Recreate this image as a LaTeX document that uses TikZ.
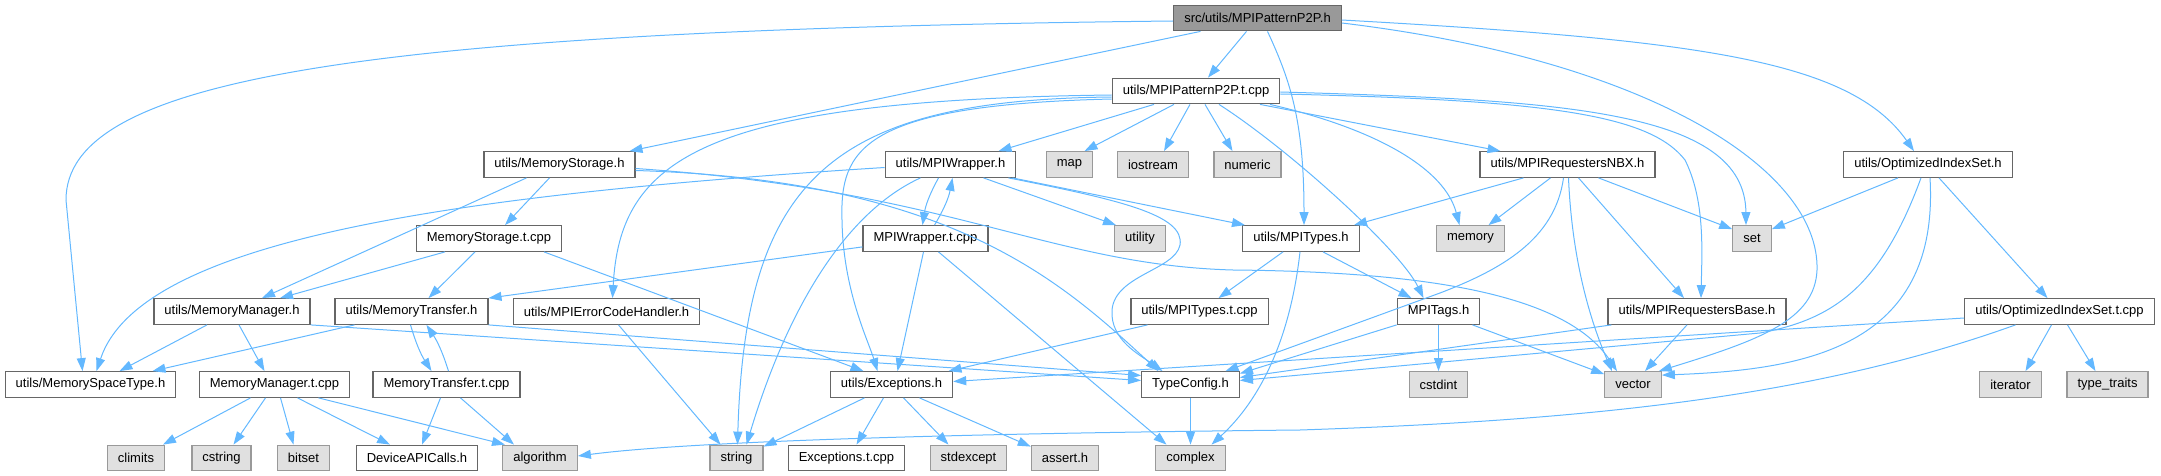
\documentclass[tikz,border=0pt]{standalone}
\usepackage{fontspec}
\setmainfont{Liberation Sans}
\usepackage{tikz}
\usetikzlibrary{arrows.meta}
\definecolor{edgeblue}{HTML}{63B8FF}
\definecolor{boxline}{HTML}{666666}
\definecolor{sysline}{HTML}{999999}
\definecolor{sysfill}{HTML}{E0E0E0}

\begin{document}
\begin{tikzpicture}[
    x=1pt, y=-1pt,
    file/.style={draw=boxline, fill=white, line width=1.3pt, inner xsep=10.5pt, inner ysep=0pt, minimum height=25.5pt, font=\fontsize{13}{15}\selectfont},
    sys/.style={file, draw=sysline, fill=sysfill},
    topfile/.style={file, fill=sysline},
    edge/.style={-{Triangle[length=13pt, width=9pt]}, draw=edgeblue, line width=1pt}
  ]
  \useasboundingbox (0,0) rectangle (2161,476);

  \node[topfile] (root) at (1257.5,18) {src/utils/MPIPatternP2P.h};
  \node[file] (pattT) at (1196,91) {utils/MPIPatternP2P.t.cpp};

  \node[file] (memStor) at (559.5,164.5) {utils/MemoryStorage.h};
  \node[file] (wrap) at (950.5,164.5) {utils/MPIWrapper.h};
  \node[sys] (map) at (1069.5,164.5) {map};
  \node[sys] (iostream) at (1153,164.5) {iostream};
  \node[sys] (numeric) at (1247.5,164.5) {numeric};
  \node[file] (nbx) at (1567.5,164.5) {utils/MPIRequestersNBX.h};
  \node[file] (optIdx) at (1928,164.5) {utils/OptimizedIndexSet.h};

  \node[file] (memStorT) at (489,238.5) {MemoryStorage.t.cpp};
  \node[file] (wrapT) at (925.5,238.5) {MPIWrapper.t.cpp};
  \node[sys] (utility) at (1140,238.5) {utility};
  \node[file] (types) at (1301,238.5) {utils/MPITypes.h};
  \node[sys] (memory) at (1470.5,238.5) {memory};
  \node[sys] (set) at (1752,238.5) {set};

  \node[file] (memMan) at (232,311.5) {utils/MemoryManager.h};
  \node[file] (memTr) at (411.5,311.5) {utils/MemoryTransfer.h};
  \node[file] (errH) at (606.5,311.5) {utils/MPIErrorCodeHandler.h};
  \node[file] (typesT) at (1199.5,311.5) {utils/MPITypes.t.cpp};
  \node[file] (tags) at (1438.5,311.5) {MPITags.h};
  \node[file] (reqBase) at (1697,311.5) {utils/MPIRequestersBase.h};
  \node[file] (optIdxT) at (2059.5,311.5) {utils/OptimizedIndexSet.t.cpp};

  \node[file] (spaceType) at (90.5,384.5) {utils/MemorySpaceType.h};
  \node[file] (memManT) at (274.5,384.5) {MemoryManager.t.cpp};
  \node[file] (memTrT) at (446.5,384.5) {MemoryTransfer.t.cpp};
  \node[file] (exc) at (891.5,384.5) {utils/Exceptions.h};
  \node[file] (typeCfg) at (1190.5,384.5) {TypeConfig.h};
  \node[sys] (cstdint) at (1438.5,384.5) {cstdint};
  \node[sys] (vector) at (1633,384.5) {vector};
  \node[sys] (iterator) at (2010.5,384.5) {iterator};
  \node[sys] (typeTraits) at (2107.5,384.5) {type\_traits};

  \node[sys] (climits) at (136,458) {climits};
  \node[sys] (cstring) at (221.5,458) {cstring};
  \node[sys] (bitset) at (303.5,458) {bitset};
  \node[file] (devApi) at (417,458) {DeviceAPICalls.h};
  \node[sys] (algorithm) at (540,458) {algorithm};
  \node[sys] (string) at (736.5,458) {string};
  \node[file] (excT) at (846.5,458) {Exceptions.t.cpp};
  \node[sys] (stdexcept) at (968.5,458) {stdexcept};
  \node[sys] (assert) at (1065,458) {assert.h};
  \node[sys] (complex) at (1190.5,458) {complex};

  \draw[edge] ([yshift=-3pt]root.west) .. controls (350,30) and (66,80) .. (66,200) -- ([xshift=-8pt]spaceType.north);
  \draw[edge] ([xshift=-57pt]root.south) -- ([xshift=70pt]memStor.north);
  \draw[edge] ([xshift=-11pt]root.south) -- ([xshift=12pt]pattT.north);
  \draw[edge] ([xshift=10pt]root.south) .. controls (1290,80) and (1304,120) .. ([xshift=3pt]types.north);
  \draw[edge] ([yshift=-5pt]root.east) .. controls (1650,60) and (1820,170) .. (1817,270) .. controls (1815,320) and (1760,340) .. ([xshift=-3pt]vector.north east);
  \draw[edge] ([yshift=-2pt]root.east) .. controls (1700,40) and (1850,60) .. ([xshift=-14pt]optIdx.north);

  \draw[edge] ([xshift=-42pt]pattT.south) -- ([xshift=48pt]wrap.north);
  \draw[edge] ([xshift=-22pt]pattT.south) -- ([xshift=15pt]map.north);
  \draw[edge] ([xshift=-6pt]pattT.south) -- ([xshift=11pt]iostream.north);
  \draw[edge] ([xshift=9pt]pattT.south) -- ([xshift=-15pt]numeric.north);
  \draw[edge] ([xshift=64pt]pattT.south) -- ([xshift=-67pt]nbx.north);
  \draw[edge] ([yshift=-1pt]pattT.east) .. controls (1560,100) and (1745,110) .. ([xshift=-6pt]set.north);
  \draw[edge] ([yshift=-3pt]pattT.east) .. controls (1550,100) and (1650,115) .. (1685,160) .. controls (1705,200) and (1702,250) .. ([xshift=4pt]reqBase.north);
  \draw[edge] ([xshift=74pt]pattT.south) .. controls (1380,130) and (1445,170) .. ([xshift=-11pt]memory.north);
  \draw[edge] ([xshift=23pt]pattT.south) .. controls (1290,150) and (1400,250) .. ([xshift=-15pt]tags.north);
  \draw[edge] ([yshift=-4pt]pattT.west) .. controls (700,100) and (620,160) .. ([xshift=6pt]errH.north);
  \draw[edge] ([yshift=-6pt]pattT.west) .. controls (830,100) and (745,180) .. ([xshift=1pt]string.north);
  \draw[edge] ([yshift=-8pt]pattT.west) .. controls (860,105) and (840,150) .. (842,220) .. controls (843,290) and (868,340) .. ([xshift=-14pt]exc.north);

  \draw[edge] ([yshift=-3pt]wrap.west) .. controls (450,195) and (140,240) .. ([xshift=6pt]spaceType.north);
  \draw[edge] ([xshift=-12pt]wrap.south) to[bend right=10] ([xshift=-3pt]wrapT.north);
  \draw[edge] ([xshift=9pt]wrapT.north) to[bend right=10] ([xshift=2pt]wrap.south);
  \draw[edge] ([xshift=-30pt]wrap.south) .. controls (850,210) and (790,300) .. ([xshift=10pt]string.north);
  \draw[edge] ([xshift=33pt]wrap.south) -- ([xshift=-24pt]utility.north);
  \draw[edge] ([xshift=62pt]wrap.south) -- ([xshift=-56pt]types.north);
  \draw[edge] ([xshift=58pt]wrap.south) .. controls (1120,200) and (1185,215) .. (1180,245) .. controls (1175,270) and (1115,275) .. (1112,310) .. controls (1110,340) and (1140,355) .. ([xshift=-28pt]typeCfg.north);

  \draw[edge] ([yshift=-6pt]memStor.east) .. controls (950,180) and (1060,280) .. ([xshift=-32pt]typeCfg.north);
  \draw[edge] ([yshift=-4pt]memStor.east) .. controls (950,190) and (1050,265) .. (1233,270) .. controls (1450,272) and (1570,300) .. ([xshift=-16pt]vector.north);
  \draw[edge] ([xshift=-33pt]memStor.south) -- ([xshift=30pt]memMan.north);
  \draw[edge] ([xshift=-10pt]memStor.south) -- ([xshift=16pt]memStorT.north);
  \draw[edge] ([xshift=-44pt]memStorT.south) -- ([xshift=48pt]memMan.north);
  \draw[edge] ([xshift=-14pt]memStorT.south) -- ([xshift=17pt]memTr.north);
  \draw[edge] ([xshift=55pt]memStorT.south) -- ([xshift=-28pt]exc.north);

  \draw[edge] ([yshift=5pt]wrapT.south west) -- (memTr.north east);
  \draw[edge] ([xshift=-2pt]wrapT.south) -- ([xshift=6pt]exc.north);
  \draw[edge] ([xshift=13pt]wrapT.south) -- ([xshift=-24pt]complex.north);

  \draw[edge] ([xshift=-18pt]types.south) -- ([xshift=19pt]typesT.north);
  \draw[edge] ([xshift=22pt]types.south) -- ([xshift=-27pt]tags.north);
  \draw[edge] ([xshift=-1pt]types.south) .. controls (1290,340) and (1260,400) .. ([xshift=21pt]complex.north);
  \draw[edge] ([xshift=-52pt]typesT.south) -- ([xshift=57pt]exc.north);

  \draw[edge] (tags.south west) -- ([yshift=11pt]typeCfg.east);
  \draw[edge] (tags.south) -- (cstdint.north);
  \draw[edge] ([xshift=34pt]tags.south) -- ([yshift=-3pt]vector.north west);

  \draw[edge] ([xshift=-44pt]nbx.south) -- ([xshift=53pt]types.north);
  \draw[edge] ([xshift=-17pt]nbx.south) -- ([xshift=18pt]memory.north);
  \draw[edge] ([xshift=-4pt]nbx.south) .. controls (1555,240) and (1500,270) .. (1440,293) -- ([xshift=35pt]typeCfg.north);
  \draw[edge] ([xshift=1pt]nbx.south) .. controls (1572,260) and (1590,320) .. ([xshift=-21pt]vector.north);
  \draw[edge] ([xshift=11pt]nbx.south) -- ([xshift=-13pt]reqBase.north);
  \draw[edge] ([xshift=31pt]nbx.south) -- ([yshift=-4pt]set.north west);

  \draw[edge] ([xshift=4pt]reqBase.south west) -- ([yshift=7pt]typeCfg.east);
  \draw[edge] ([xshift=-10pt]reqBase.south) -- ([xshift=12pt]vector.north);

  \draw[edge] ([xshift=-30pt]optIdx.south) -- ([yshift=-4pt]set.north east);
  \draw[edge] ([xshift=11pt]optIdx.south) -- ([xshift=-12pt]optIdxT.north);
  \draw[edge] ([xshift=2pt]optIdx.south) .. controls (1940,350) and (1800,370) .. ([yshift=-4pt]vector.north east);
  \draw[edge] ([xshift=-7pt]optIdx.south) .. controls (1880,290) and (1830,320) .. (1760,333) -- ([yshift=4pt]typeCfg.east);

  \draw[edge] ([yshift=-6.5pt]optIdxT.west) -- ([yshift=3pt]exc.east);
  \draw[edge] ([xshift=-8pt]optIdxT.south) -- ([xshift=15pt]iterator.north);
  \draw[edge] ([xshift=8pt]optIdxT.south) -- ([xshift=-12pt]typeTraits.north);
  \draw[edge] ([xshift=-44pt]optIdxT.south) .. controls (1820,395) and (1600,420) .. (1300,430) .. controls (1000,433) and (700,440) .. ([yshift=2pt]algorithm.east);

  \draw[edge] ([xshift=12pt]errH.south) -- ([xshift=-16pt]string.north);

  \draw[edge] ([xshift=-25pt]memMan.south) -- ([xshift=29pt]spaceType.north);
  \draw[edge] ([xshift=7pt]memMan.south) -- ([xshift=-10pt]memManT.north);
  \draw[edge] (memMan.south east) -- ([yshift=4pt]typeCfg.west);
  \draw[edge] (memTr.south east) -- ([yshift=9pt]typeCfg.west);
  \draw[edge] ([xshift=-57pt]memTr.south) -- ([xshift=62pt]spaceType.north);
  \draw[edge] ([xshift=-1pt]memTr.south) to[bend right=8] ([xshift=-15pt]memTrT.north);
  \draw[edge] ([xshift=2pt]memTrT.north) to[bend right=8] ([xshift=15pt]memTr.south);

  \draw[edge] ([xshift=-24pt]memManT.south) -- ([xshift=27pt]climits.north);
  \draw[edge] ([xshift=-9pt]memManT.south) -- ([xshift=12pt]cstring.north);
  \draw[edge] ([xshift=6pt]memManT.south) -- ([xshift=-10pt]bitset.north);
  \draw[edge] ([xshift=23pt]memManT.south) -- ([xshift=-27pt]devApi.north);
  \draw[edge] ([xshift=44pt]memManT.south) -- ([xshift=-35pt]algorithm.north);
  \draw[edge] ([xshift=-6pt]memTrT.south) -- ([xshift=5pt]devApi.north);
  \draw[edge] ([xshift=14pt]memTrT.south) -- ([xshift=-26pt]algorithm.north);

  \draw[edge] ([xshift=-27pt]exc.south) -- ([yshift=-2pt]string.north east);
  \draw[edge] ([xshift=-8pt]exc.south) -- ([xshift=10pt]excT.north);
  \draw[edge] ([xshift=12pt]exc.south) -- ([xshift=-20pt]stdexcept.north);
  \draw[edge] ([xshift=28pt]exc.south) -- ([yshift=-2pt]assert.north west);
  \draw[edge] (typeCfg.south) -- (complex.north);
\end{tikzpicture}
\end{document}
